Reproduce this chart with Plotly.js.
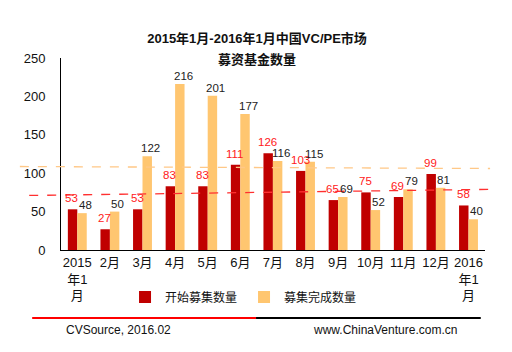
<!DOCTYPE html>
<html><head><meta charset="utf-8">
<script src="https://cdn.plot.ly/plotly-3.0.1.min.js"></script>
<style>html,body{margin:0;padding:0;background:#fff}</style>
</head><body>
<div id="chart" style="width:512px;height:352px"></div>
<script>
var categories = ['2015年1月','2月','3月','4月','5月','6月','7月','8月','9月','10月','11月','12月','2016年1月'];
var tickLabels = ['2015<br>年1<br>月','2月','3月','4月','5月','6月','7月','8月','9月','10月','11月','12月','2016<br>年1<br>月'];
var startedCount = [53,27,53,83,83,111,126,103,65,75,69,99,58];
var completedCount = [48,50,122,216,201,177,116,115,69,52,79,81,40];
var seriesNames = ['开始募集数量','募集完成数量'];
var redRefLine = [71,79];
var orangeRefLine = [108.7,106.1];
var titleText = '2015年1月-2016年1月中国VC/PE市场';
var subtitleText = '募资基金数量';
var sourceLeft = 'CVSource, 2016.02';
var sourceRight = 'www.ChinaVenture.com.cn';

var FONT = 'Liberation Sans, Arial, Noto Sans CJK SC, sans-serif';
var RED = '#c00000', ORANGE = '#ffc670';

var traces = [
  {type:'bar', x:categories, y:startedCount, name:seriesNames[0], marker:{color:RED}},
  {type:'bar', x:categories, y:completedCount, name:seriesNames[1], marker:{color:ORANGE}}
];

function valueLabels(vals, color, xshift, yshift) {
  return vals.map(function (v, i) {
    return {text:String(v), xref:'x', yref:'y', x:categories[i], y:v, xanchor:'center', yanchor:'bottom',
            xshift:xshift, yshift:yshift, showarrow:false, font:{size:11.5, color:color, family:FONT}};
  });
}

var annotations = [
  {text:'<b>'+subtitleText+'</b>', xref:'paper', yref:'paper', x:0.462, y:(250-60)/192, xanchor:'center', yanchor:'middle', showarrow:false, font:{size:13, color:'#111'}},
  {text:sourceLeft, xref:'paper', yref:'paper', x:(64-61)/424, y:(250-330)/192, xanchor:'left', yanchor:'middle', showarrow:false, font:{size:12, color:'#111'}},
  {text:sourceRight, xref:'paper', yref:'paper', x:(311-61)/424, y:(250-330)/192, xanchor:'left', yanchor:'middle', showarrow:false, font:{size:12, color:'#111'}}
].concat(valueLabels(startedCount, '#ff2020', -5.5, 3)).concat(valueLabels(completedCount, '#222', 8, 0));

var layout = {
  width:512, height:352,
  margin:{l:61, r:27, t:58, b:102},
  paper_bgcolor:'#fff', plot_bgcolor:'#fff',
  font:{family:FONT, size:13, color:'#111'},
  barmode:'group', bargap:0.42, bargroupgap:0,
  title:{text:'<b>'+titleText+'</b>', x:0.502, xanchor:'center', y:1-38/352, yanchor:'middle', font:{size:13, color:'#111', family:FONT}},
  xaxis:{type:'category', tickvals:categories, ticktext:tickLabels, showline:true, linecolor:'#000', linewidth:1,
         ticks:'', showgrid:false, zeroline:false, tickfont:{size:13, color:'#111'}, fixedrange:true},
  yaxis:{range:[0,250], dtick:50, showline:true, linecolor:'#000', linewidth:1, ticks:'', showgrid:false, zeroline:false,
         tickfont:{size:13, color:'#111'}, ticklabelstandoff:12},
  showlegend:true,
  legend:{orientation:'h', x:0.151, xanchor:'left', y:-0.245, yanchor:'middle', font:{size:12, color:'#111'},
          itemwidth:30, entrywidth:74, bgcolor:'rgba(0,0,0,0)'},
  shapes:[
    {type:'line', xref:'paper', yref:'y', x0:-0.075, x1:1.012, y0:redRefLine[0], y1:redRefLine[1], line:{color:'#ff3030', width:1.3, dash:'dash'}},
    {type:'line', xref:'paper', yref:'y', x0:-0.097, x1:1.012, y0:orangeRefLine[0], y1:orangeRefLine[1], line:{color:'#ffc887', width:1.3, dash:'dash'}},
    {type:'line', xref:'paper', yref:'paper', x0:-0.068, x1:0.46, y0:-0.354, y1:-0.354, line:{color:'#ff0000', width:2}},
    {type:'line', xref:'paper', yref:'paper', x0:0.46, x1:0.99, y0:-0.354, y1:-0.354, line:{color:'#000', width:2}}
  ],
  annotations:annotations
};
Plotly.newPlot('chart', traces, layout, {staticPlot:true, displayModeBar:false});
</script>
</body></html>
